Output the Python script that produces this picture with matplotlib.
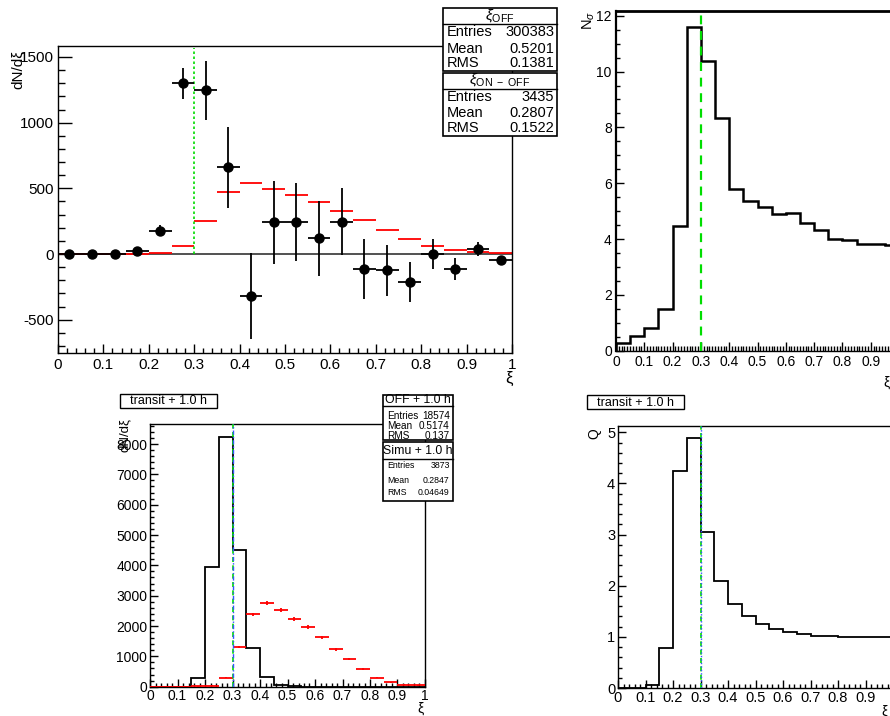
import numpy as np
import matplotlib
matplotlib.use("Agg")
import matplotlib.pyplot as plt
from matplotlib.ticker import MultipleLocator, FuncFormatter
from matplotlib.transforms import Affine2D
from matplotlib.patches import Rectangle
from matplotlib.lines import Line2D

plt.rcParams['font.family'] = ['Liberation Sans', 'DejaVu Sans']
plt.rcParams['mathtext.fontset'] = 'custom'
plt.rcParams['mathtext.rm'] = 'Liberation Sans'
plt.rcParams['mathtext.it'] = 'Liberation Sans:italic'
plt.rcParams['axes.unicode_minus'] = False

# ---------------- data ----------------
bin_edges = np.linspace(0, 1, 21)
bin_centers = 0.5 * (bin_edges[:-1] + bin_edges[1:])
half_width = 0.025
cut_xi = 0.3

# top-left: ON-OFF excess (black points) and OFF (red)
excess = [0, 0, 3, 23, 178, 1300, 1246, 660, -317, 241, 244, 119, 246, -112, -124, -211, 0, -112, 38, -48]
excess_err = [5, 8, 10, 15, 40, 120, 226, 307, 328, 317, 300, 283, 256, 228, 193, 152, 114, 84, 54, 34]
off_scaled = [0, 0, 1, 4, 8, 63, 251, 470, 541, 497, 452, 396, 327, 259, 185, 117, 63, 30, 15, 8]
tl_cut_top = 1568

# top-right: N_sigma
n_sigma = [0.29, 0.54, 0.82, 1.49, 4.47, 11.58, 10.39, 8.32, 5.81, 5.36, 5.13, 4.91, 4.94, 4.59, 4.32, 4.0, 3.96, 3.81, 3.84, 3.77]

# bottom-left: simulation (black) and OFF (red)
simu = [0, 0, 5, 275, 3945, 8240, 4505, 1264, 308, 55, 10, 5, 2, 0, 0, 0, 0, 0, 0, 0]
off_bl = [0, 0, 5, 10, 30, 297, 1308, 2385, 2747, 2527, 2231, 1967, 1626, 1231, 923, 582, 297, 143, 66, 44]
off_bl_err = [0, 0, 5, 8, 12, 25, 45, 60, 65, 62, 58, 55, 50, 45, 38, 30, 22, 15, 10, 8]

# bottom-right: Q factor
q_factor = [0, 0, 0.065, 0.79, 4.25, 4.88, 3.05, 2.10, 1.64, 1.41, 1.26, 1.16, 1.09, 1.05, 1.02, 1.01, 1.0, 0.99, 0.99, 0.99]

# ---------------- figure ----------------
W, H = 890, 716
fig = plt.figure(figsize=(W / 100, H / 100), dpi=100)
pix = Affine2D().scale(1 / W, -1 / H).translate(0, 1) + fig.transFigure


def add_ax(l, t, r, b):
    return fig.add_axes([l / W, 1 - b / H, (r - l) / W, (b - t) / H])


fmt = FuncFormatter(lambda v, p: '%g' % round(v, 6))


def style(ax, xmaj, xmin, ymaj, ymin, xlen, ylen, fs, xpad=3, ypad=3):
    ax.set_xlim(0, 1)
    ax.xaxis.set_major_locator(MultipleLocator(xmaj))
    ax.xaxis.set_minor_locator(MultipleLocator(xmin))
    ax.yaxis.set_major_locator(MultipleLocator(ymaj))
    ax.yaxis.set_minor_locator(MultipleLocator(ymin))
    ax.xaxis.set_major_formatter(fmt)
    ax.yaxis.set_major_formatter(fmt)
    ax.tick_params(which='both', direction='in', top=False, right=False, labelsize=fs, width=1)
    ax.tick_params(axis='x', which='major', length=xlen, pad=xpad)
    ax.tick_params(axis='x', which='minor', length=xlen / 2)
    ax.tick_params(axis='y', which='major', length=ylen, pad=ypad)
    ax.tick_params(axis='y', which='minor', length=ylen / 2)
    for s in ax.spines.values():
        s.set_linewidth(1.0)


def stat_box(x0, x1, y0, ysep, y1, title, rows, tfs, rfs, rows_y, title_y):
    fig.add_artist(Rectangle((x0, y0), x1 - x0, y1 - y0, transform=pix, facecolor='white',
                             edgecolor='black', lw=1.2, zorder=10))
    fig.add_artist(Line2D([x0, x1], [ysep, ysep], transform=pix, color='black', lw=1, zorder=11))
    fig.text((x0 + x1) / 2, title_y, title, transform=pix, ha='center', va='center', fontsize=tfs, zorder=12)
    for (lab, val), yy in zip(rows, rows_y):
        fig.text(x0 + 4, yy, lab, transform=pix, ha='left', va='center', fontsize=rfs, zorder=12)
        fig.text(x1 - 3, yy, val, transform=pix, ha='right', va='center', fontsize=rfs, zorder=12)


def label_box(x0, x1, y0, y1, txt, fs):
    fig.add_artist(Rectangle((x0, y0), x1 - x0, y1 - y0, transform=pix, facecolor='white',
                             edgecolor='black', lw=1, zorder=10))
    fig.text((x0 + x1) / 2, (y0 + y1) / 2 + 0.5, txt, transform=pix, ha='center', va='center',
             fontsize=fs, zorder=12)


# ---- top-left ----
ax1 = add_ax(58, 45.7, 512, 352.7)
ax1.axhline(0, color='#333333', lw=1.2, zorder=1)
ax1.errorbar(bin_centers, off_scaled, xerr=half_width, fmt='none', ecolor='red', elinewidth=1.3, zorder=2)
ax1.errorbar(bin_centers, excess, xerr=half_width, yerr=excess_err, fmt='o', color='black',
             ms=6.5, elinewidth=1.3, capsize=0, zorder=3)
ax1.vlines(cut_xi, 0, tl_cut_top, colors='#00dd00', linestyles=(0, (1.5, 1.5)), lw=1.2, zorder=2)
ax1.set_ylim(-751, 1586)
style(ax1, 0.1, 0.02, 500, 100, 6.5, 9.8, 11, xpad=4)
fig.text(18, 50, 'dN/dξ', transform=pix, rotation=90, ha='center', va='top', fontsize=11)
fig.text(509, 378, 'ξ', transform=pix, ha='center', va='center', fontsize=12)

stat_box(443, 557, 8.3, 24, 71, r'$\xi_{\rm OFF}$',
         [('Entries', '300383'), ('Mean', '0.5201'), ('RMS', '0.1381')], 11, 10.5, [32, 48.7, 63], 15.5)
stat_box(443, 557, 72.7, 89, 135.7, r'$\xi_{\rm ON\ -\ OFF}$',
         [('Entries', '3435'), ('Mean', '0.2807'), ('RMS', '0.1522')], 11, 10.5, [96.7, 113, 128], 80)

# ---- top-right ----
ax2 = add_ax(616, 10.7, 899, 350.7)
ax2.stairs(n_sigma, bin_edges, color='black', lw=1.8, zorder=3)
ax2.axvline(cut_xi, color='#00dd00', ls=(0, (4, 3)), lw=1.6, zorder=4)
ax2.set_ylim(0, 12.18)
style(ax2, 0.1, 0.01, 2, 0.5, 6.5, 5.5, 10)
ax2.spines['top'].set_linewidth(2)
ax2.spines['left'].set_linewidth(1.6)
fig.text(589, 11, r'N$_{\sigma}$', transform=pix, rotation=90, ha='center', va='top', fontsize=10.5)
fig.text(886, 383, 'ξ', transform=pix, ha='center', va='center', fontsize=10)

# ---- bottom-left ----
ax3 = add_ax(150, 424.3, 425, 686.7)
ax3.stairs(simu, bin_edges, color='black', lw=1.3, zorder=3)
ax3.errorbar(bin_centers, off_bl, xerr=half_width, yerr=off_bl_err, fmt='none', ecolor='red',
             elinewidth=1.3, capsize=0, zorder=4)
ax3.axvline(cut_xi, color='#00dd00', ls=(0, (3, 2)), lw=1.2, zorder=5)
ax3.axvline(cut_xi, color='#3355ff', ls=(0, (3, 1.5, 1, 1.5)), lw=1.0, zorder=5)
ax3.set_ylim(0, 8650)
style(ax3, 0.1, 0.02, 1000, 200, 5.8, 5.8, 10, xpad=2, ypad=2)
fig.text(125, 418, 'dN/dξ', transform=pix, rotation=90, ha='center', va='top', fontsize=9.5)
fig.text(420, 709, 'ξ', transform=pix, ha='center', va='center', fontsize=10)
label_box(120, 217, 394, 408, 'transit + 1.0 h', 9)
stat_box(383.3, 452.7, 395, 405.5, 440, 'OFF + 1.0 h',
         [('Entries', '18574'), ('Mean', '0.5174'), ('RMS', '0.137')], 8.8, 7.2, [415.7, 426, 436], 400.3)
stat_box(383.3, 452.7, 441.7, 459, 501, 'Simu + 1.0 h',
         [('Entries', '3873'), ('Mean', '0.2847'), ('RMS', '0.04649')], 8.8, 6.3, [466, 480.5, 492.3], 450.5)

# ---- bottom-right ----
ax4 = add_ax(618, 425.7, 893, 688)
ax4.stairs(q_factor, bin_edges, color='black', lw=1.3, zorder=3)
ax4.axvline(cut_xi, color='#00dd00', ls=(0, (3, 2)), lw=1.2, zorder=5)
ax4.axvline(cut_xi, color='#3355ff', ls=(0, (1, 1.5)), lw=1.0, zorder=5)
ax4.set_ylim(0, 5.13)
style(ax4, 0.1, 0.02, 1, 0.2, 5.8, 5.8, 10.5, xpad=2, ypad=2)
fig.text(594, 428, 'Q', transform=pix, rotation=90, ha='center', va='top', fontsize=10)
fig.text(885, 712, 'ξ', transform=pix, ha='center', va='center', fontsize=10)
label_box(587, 684, 395, 409, 'transit + 1.0 h', 9)

fig.savefig('out.png', dpi=100)
